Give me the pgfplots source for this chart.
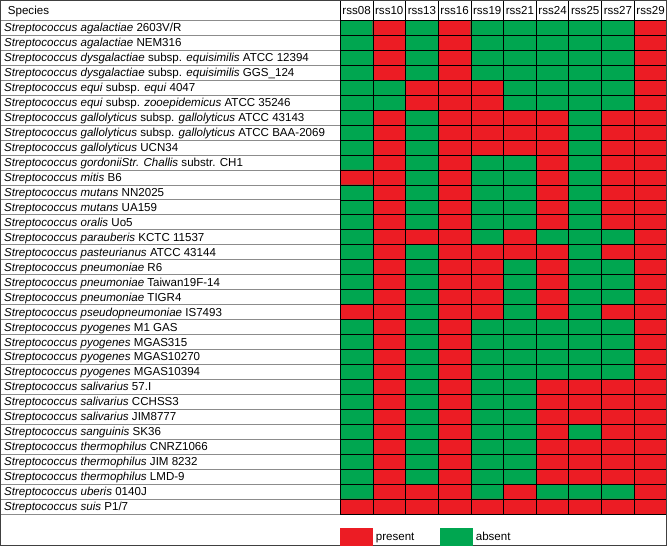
\documentclass[border=0pt]{standalone}
\usepackage{fontspec}
\setmainfont{Liberation Sans}
\usepackage{pgfplots}
\pgfplotsset{compat=1.18}
\definecolor{pres}{RGB}{236,28,36}
\definecolor{absn}{RGB}{0,166,80}
\definecolor{rowline}{RGB}{140,140,140}
\newcommand{\tf}{\fontsize{11.6}{13}\selectfont}
\newcommand{\strep}[1]{\textit{Streptococcus #1}}

\begin{document}
\begin{tikzpicture}
\begin{axis}[
  scale only axis, width=666bp, height=545bp,
  xmin=-10.9, xmax=9.5, ymin=-0.83, ymax=35.63, y dir=reverse,
  enlargelimits=false, axis on top,
  axis line style={draw=black!75, line width=1.2bp},
  tick style={draw=none},
  ticklabel style={font=\tf},
  xtick={0,...,9}, xticklabel pos=right,
  xticklabels={rss08,rss10,rss13,rss16,rss19,rss21,rss24,rss25,rss27,rss29},
  xticklabel style={anchor=base, yshift=-14bp},
  ytick={1,...,33},
  yticklabels={
    {\strep{agalactiae} 2603V/R},
    {\strep{agalactiae} NEM316},
    {\strep{dysgalactiae} subsp. \textit{equisimilis} ATCC 12394},
    {\strep{dysgalactiae} subsp. \textit{equisimilis} GGS\_124},
    {\strep{equi} subsp. \textit{equi} 4047},
    {\strep{equi} subsp. \textit{zooepidemicus} ATCC 35246},
    {\strep{gallolyticus} subsp. \textit{gallolyticus} ATCC 43143},
    {\strep{gallolyticus} subsp. \textit{gallolyticus} ATCC BAA-2069},
    {\strep{gallolyticus} UCN34},
    {\strep{gordoniiStr. Challis} substr. CH1},
    {\strep{mitis} B6},
    {\strep{mutans} NN2025},
    {\strep{mutans} UA159},
    {\strep{oralis} Uo5},
    {\strep{parauberis} KCTC 11537},
    {\strep{pasteurianus} ATCC 43144},
    {\strep{pneumoniae} R6},
    {\strep{pneumoniae} Taiwan19F-14},
    {\strep{pneumoniae} TIGR4},
    {\strep{pseudopneumoniae} IS7493},
    {\strep{pyogenes} M1 GAS},
    {\strep{pyogenes} MGAS315},
    {\strep{pyogenes} MGAS10270},
    {\strep{pyogenes} MGAS10394},
    {\strep{salivarius} 57.I},
    {\strep{salivarius} CCHSS3},
    {\strep{salivarius} JIM8777},
    {\strep{sanguinis} SK36},
    {\strep{thermophilus} CNRZ1066},
    {\strep{thermophilus} JIM 8232},
    {\strep{thermophilus} LMD-9},
    {\strep{uberis} 0140J},
    {\strep{suis} P1/7}
  },
  yticklabel style={anchor=base west, yshift=-4bp},
  colormap={pa}{rgb255=(0,166,80) rgb255=(236,28,36)},
  point meta min=0, point meta max=1,
  legend columns=2,
  legend cell align=left,
  legend style={draw=none, fill=none, font=\tf,
    at={(axis cs:-0.5,35.63)}, anchor=south west, inner sep=0pt,
    /tikz/every odd column/.append style={column sep=1bp},
    /tikz/every even column/.append style={column sep=24bp}},
]
% 1 = present (red), 0 = absent (green); x = column, y = species row
\addplot[matrix plot*, mesh/cols=10, point meta=explicit, forget plot]
  table[row sep=\\, meta=c]{
  x y c\\
  0 1 0\\ 1 1 1\\ 2 1 0\\ 3 1 1\\ 4 1 0\\ 5 1 0\\ 6 1 0\\ 7 1 0\\ 8 1 0\\ 9 1 1\\
  0 2 0\\ 1 2 1\\ 2 2 0\\ 3 2 1\\ 4 2 0\\ 5 2 0\\ 6 2 0\\ 7 2 0\\ 8 2 0\\ 9 2 1\\
  0 3 0\\ 1 3 1\\ 2 3 0\\ 3 3 1\\ 4 3 0\\ 5 3 0\\ 6 3 0\\ 7 3 0\\ 8 3 0\\ 9 3 1\\
  0 4 0\\ 1 4 1\\ 2 4 0\\ 3 4 1\\ 4 4 0\\ 5 4 0\\ 6 4 0\\ 7 4 0\\ 8 4 0\\ 9 4 1\\
  0 5 0\\ 1 5 0\\ 2 5 1\\ 3 5 1\\ 4 5 1\\ 5 5 0\\ 6 5 0\\ 7 5 0\\ 8 5 0\\ 9 5 1\\
  0 6 0\\ 1 6 0\\ 2 6 1\\ 3 6 1\\ 4 6 1\\ 5 6 0\\ 6 6 0\\ 7 6 0\\ 8 6 0\\ 9 6 1\\
  0 7 0\\ 1 7 1\\ 2 7 0\\ 3 7 1\\ 4 7 1\\ 5 7 1\\ 6 7 1\\ 7 7 0\\ 8 7 1\\ 9 7 1\\
  0 8 0\\ 1 8 1\\ 2 8 0\\ 3 8 1\\ 4 8 1\\ 5 8 1\\ 6 8 1\\ 7 8 0\\ 8 8 1\\ 9 8 1\\
  0 9 0\\ 1 9 1\\ 2 9 0\\ 3 9 1\\ 4 9 1\\ 5 9 1\\ 6 9 1\\ 7 9 0\\ 8 9 1\\ 9 9 1\\
  0 10 0\\ 1 10 1\\ 2 10 0\\ 3 10 1\\ 4 10 0\\ 5 10 0\\ 6 10 1\\ 7 10 0\\ 8 10 1\\ 9 10 1\\
  0 11 1\\ 1 11 1\\ 2 11 0\\ 3 11 1\\ 4 11 0\\ 5 11 0\\ 6 11 1\\ 7 11 0\\ 8 11 1\\ 9 11 1\\
  0 12 0\\ 1 12 1\\ 2 12 0\\ 3 12 1\\ 4 12 0\\ 5 12 0\\ 6 12 1\\ 7 12 0\\ 8 12 1\\ 9 12 1\\
  0 13 0\\ 1 13 1\\ 2 13 0\\ 3 13 1\\ 4 13 0\\ 5 13 0\\ 6 13 1\\ 7 13 0\\ 8 13 1\\ 9 13 1\\
  0 14 0\\ 1 14 1\\ 2 14 0\\ 3 14 1\\ 4 14 0\\ 5 14 0\\ 6 14 1\\ 7 14 0\\ 8 14 1\\ 9 14 1\\
  0 15 0\\ 1 15 1\\ 2 15 1\\ 3 15 1\\ 4 15 0\\ 5 15 1\\ 6 15 0\\ 7 15 0\\ 8 15 0\\ 9 15 1\\
  0 16 0\\ 1 16 1\\ 2 16 0\\ 3 16 1\\ 4 16 1\\ 5 16 1\\ 6 16 1\\ 7 16 0\\ 8 16 1\\ 9 16 1\\
  0 17 0\\ 1 17 1\\ 2 17 0\\ 3 17 1\\ 4 17 1\\ 5 17 0\\ 6 17 1\\ 7 17 0\\ 8 17 0\\ 9 17 1\\
  0 18 0\\ 1 18 1\\ 2 18 0\\ 3 18 1\\ 4 18 1\\ 5 18 0\\ 6 18 1\\ 7 18 0\\ 8 18 0\\ 9 18 1\\
  0 19 0\\ 1 19 1\\ 2 19 0\\ 3 19 1\\ 4 19 1\\ 5 19 0\\ 6 19 1\\ 7 19 0\\ 8 19 0\\ 9 19 1\\
  0 20 1\\ 1 20 1\\ 2 20 0\\ 3 20 1\\ 4 20 1\\ 5 20 0\\ 6 20 1\\ 7 20 0\\ 8 20 1\\ 9 20 1\\
  0 21 0\\ 1 21 1\\ 2 21 0\\ 3 21 1\\ 4 21 0\\ 5 21 0\\ 6 21 0\\ 7 21 0\\ 8 21 0\\ 9 21 1\\
  0 22 0\\ 1 22 1\\ 2 22 0\\ 3 22 1\\ 4 22 0\\ 5 22 0\\ 6 22 0\\ 7 22 0\\ 8 22 0\\ 9 22 1\\
  0 23 0\\ 1 23 1\\ 2 23 0\\ 3 23 1\\ 4 23 0\\ 5 23 0\\ 6 23 0\\ 7 23 0\\ 8 23 0\\ 9 23 1\\
  0 24 0\\ 1 24 1\\ 2 24 0\\ 3 24 1\\ 4 24 0\\ 5 24 0\\ 6 24 0\\ 7 24 0\\ 8 24 0\\ 9 24 1\\
  0 25 0\\ 1 25 1\\ 2 25 0\\ 3 25 1\\ 4 25 0\\ 5 25 0\\ 6 25 1\\ 7 25 1\\ 8 25 1\\ 9 25 1\\
  0 26 0\\ 1 26 1\\ 2 26 0\\ 3 26 1\\ 4 26 0\\ 5 26 0\\ 6 26 1\\ 7 26 1\\ 8 26 1\\ 9 26 1\\
  0 27 0\\ 1 27 1\\ 2 27 0\\ 3 27 1\\ 4 27 0\\ 5 27 0\\ 6 27 1\\ 7 27 1\\ 8 27 1\\ 9 27 1\\
  0 28 0\\ 1 28 1\\ 2 28 0\\ 3 28 1\\ 4 28 0\\ 5 28 0\\ 6 28 1\\ 7 28 0\\ 8 28 1\\ 9 28 1\\
  0 29 0\\ 1 29 1\\ 2 29 0\\ 3 29 1\\ 4 29 0\\ 5 29 0\\ 6 29 1\\ 7 29 1\\ 8 29 1\\ 9 29 1\\
  0 30 0\\ 1 30 1\\ 2 30 0\\ 3 30 1\\ 4 30 0\\ 5 30 0\\ 6 30 1\\ 7 30 1\\ 8 30 1\\ 9 30 1\\
  0 31 0\\ 1 31 1\\ 2 31 0\\ 3 31 1\\ 4 31 0\\ 5 31 0\\ 6 31 1\\ 7 31 1\\ 8 31 1\\ 9 31 1\\
  0 32 0\\ 1 32 1\\ 2 32 1\\ 3 32 1\\ 4 32 0\\ 5 32 1\\ 6 32 0\\ 7 32 0\\ 8 32 0\\ 9 32 1\\
  0 33 1\\ 1 33 1\\ 2 33 1\\ 3 33 1\\ 4 33 1\\ 5 33 1\\ 6 33 1\\ 7 33 1\\ 8 33 1\\ 9 33 1\\
  };

% table rules
\pgfplotsinvokeforeach{0.5,1.5,...,33.5}{
  \draw[rowline, line width=0.9bp] (axis cs:-10.9,#1) -- (axis cs:-0.5,#1);
  \draw[black, line width=0.8bp] (axis cs:-0.5,#1) -- (axis cs:9.5,#1);
}
\pgfplotsinvokeforeach{-0.5,0.5,...,8.5}{
  \draw[black, line width=0.8bp] (axis cs:#1,-0.83) -- (axis cs:#1,33.5);
}
\node[font=\tf, anchor=base west, xshift=3.8bp, yshift=-14bp]
  at (axis cs:-10.9,-0.83) {Species};

\addlegendimage{legend image code/.code={\fill[pres] (0bp,-8bp) rectangle (32bp,9bp);}}
\addlegendentry{present}
\addlegendimage{legend image code/.code={\fill[absn] (0bp,-8bp) rectangle (32bp,9bp);}}
\addlegendentry{absent}
\end{axis}
\end{tikzpicture}
\end{document}
